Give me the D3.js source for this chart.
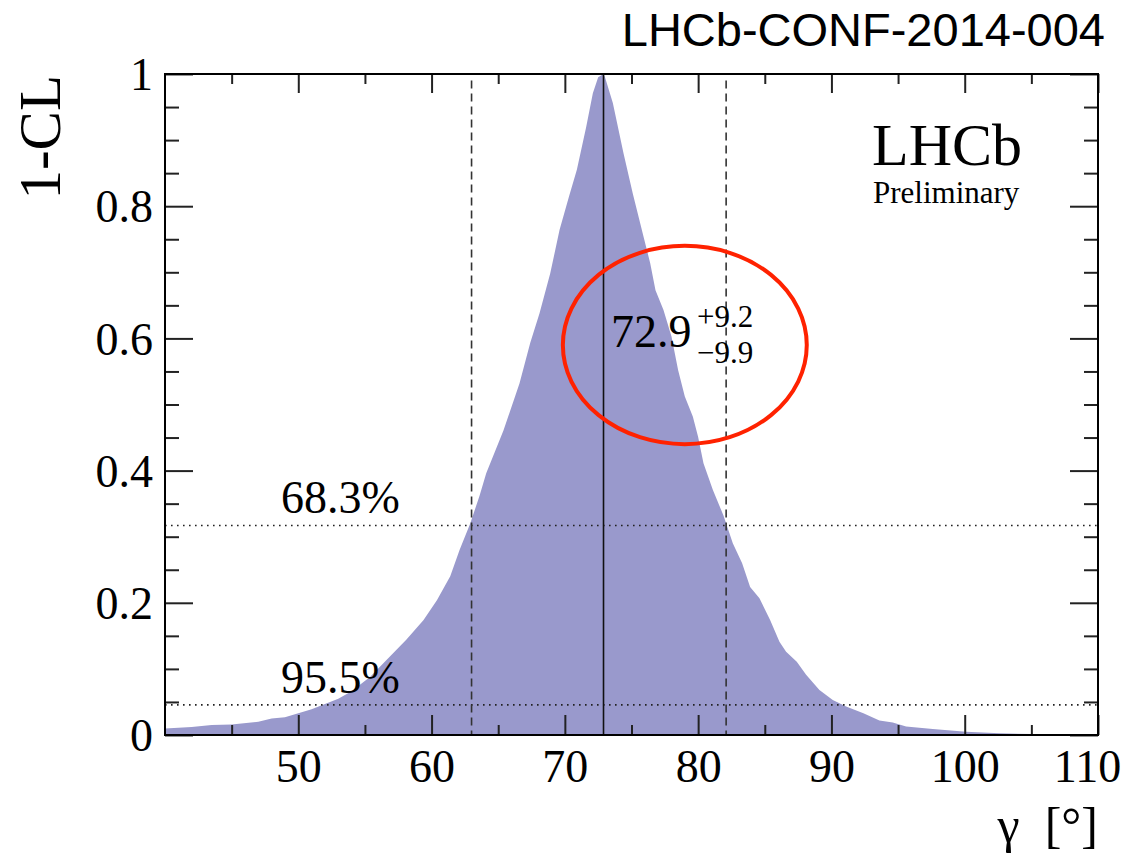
<!DOCTYPE html>
<html>
<head>
<meta charset="utf-8">
<script src="https://cdn.jsdelivr.net/npm/d3@7"></script>
<style>
  html, body { margin: 0; padding: 0; background: #fff; }
  svg { display: block; }
</style>
</head>
<body>
<svg id="chart" width="1135" height="858"></svg>
<script>
// gamma scan: 1-CL versus gamma [deg]
const gamma = [40.0, 42.0, 43.5, 45.0, 47.0, 48.0, 49.0, 50.0, 51.0, 52.0, 53.0, 54.0,
  55.4, 56.6, 58.1, 59.4, 60.4, 61.4, 62.1, 62.9, 63.6, 64.1, 65.4, 66.6, 67.4, 68.1,
  68.9, 69.6, 70.3, 70.9, 71.6, 72.1, 72.5, 72.9, 73.0, 73.6, 74.4, 75.1, 75.9, 76.4,
  76.8, 77.4, 78.0, 78.5, 79.0, 79.6, 80.0, 80.4, 81.1, 81.9, 82.6, 83.3, 83.9, 84.6,
  85.4, 86.1, 86.6, 87.4, 88.1, 89.1, 90.1, 91.1, 92.4, 93.6, 94.6, 95.6, 97.6, 100.1,
  102.6, 105.1, 107.6, 110.0];
const oneMinusCL = [0.010, 0.012, 0.015, 0.016, 0.020, 0.025, 0.027, 0.033, 0.039, 0.047, 0.055, 0.066,
  0.088, 0.113, 0.144, 0.174, 0.204, 0.240, 0.280, 0.320, 0.362, 0.396, 0.461, 0.532, 0.593, 0.638,
  0.698, 0.764, 0.814, 0.855, 0.920, 0.971, 0.995, 1.000, 0.996, 0.956, 0.880, 0.819, 0.754, 0.714,
  0.673, 0.643, 0.603, 0.552, 0.512, 0.482, 0.451, 0.411, 0.371, 0.332, 0.290, 0.260, 0.224, 0.207,
  0.174, 0.141, 0.126, 0.111, 0.091, 0.068, 0.053, 0.043, 0.033, 0.022, 0.019, 0.013, 0.009, 0.005,
  0.0025, 0.0015, 0.001, 0.0005];

// best fit and 1-sigma interval
const central = 72.9;
const errUp = 9.2;
const errDown = 9.9;

// confidence-level reference lines
const clLevels = [0.317, 0.0455];
const clLabels = ["68.3%", "95.5%"];

// axes
const xMajor = [50, 60, 70, 80, 90, 100, 110];
const xMinor = [45, 55, 65, 75, 85, 95, 105];
const xTickLabels = ["50", "60", "70", "80", "90", "100", "110"];
const yMajor = [0, 0.2, 0.4, 0.6, 0.8, 1];
const yMinor = [0.05, 0.1, 0.15, 0.25, 0.3, 0.35, 0.45, 0.5, 0.55, 0.65, 0.7, 0.75, 0.85, 0.9, 0.95];
const yTickLabels = ["0", "0.2", "0.4", "0.6", "0.8", "1"];

const serif = "'Liberation Serif', 'Times New Roman', serif";
const sans = "'Liberation Sans', Arial, sans-serif";

const svg = d3.select("#chart");
const L = 165, R = 1098, T = 74, B = 735;
const x = d3.scaleLinear().domain([40, 110]).range([L, R]);
const y = d3.scaleLinear().domain([0, 1]).range([B, T]);

const points = gamma.map((g, i) => ({ g, v: oneMinusCL[i] }));

// filled profile
const area = d3.area()
  .x(d => x(d.g))
  .y0(y(0))
  .y1(d => y(d.v))
  .curve(d3.curveLinear);
svg.append("path")
  .datum(points)
  .attr("d", area)
  .attr("fill", "#9999cc");

// dotted CL lines
svg.selectAll("line.cl")
  .data(clLevels)
  .join("line")
  .attr("class", "cl")
  .attr("x1", x(40)).attr("x2", x(110))
  .attr("y1", d => y(d)).attr("y2", d => y(d))
  .attr("stroke", "#222")
  .attr("stroke-width", 1.6)
  .attr("stroke-dasharray", "1.6,4.4");

// dashed interval boundaries
svg.selectAll("line.bound")
  .data([central - errDown, central + errUp])
  .join("line")
  .attr("class", "bound")
  .attr("x1", d => x(d)).attr("x2", d => x(d))
  .attr("y1", y(0.99)).attr("y2", y(0))
  .attr("stroke", "#333")
  .attr("stroke-width", 1.6)
  .attr("stroke-dasharray", "8,5");

// central value
svg.append("line")
  .attr("x1", x(central)).attr("x2", x(central))
  .attr("y1", y(1)).attr("y2", y(0))
  .attr("stroke", "#111")
  .attr("stroke-width", 1.6);

// CL labels
svg.selectAll("text.cl")
  .data(clLabels)
  .join("text")
  .attr("class", "cl")
  .attr("x", 281)
  .attr("y", (d, i) => y(clLevels[i]) - 12)
  .attr("font-family", serif)
  .attr("font-size", 46)
  .attr("fill", "#000")
  .text(d => d);

// axis ticks (inside, on all four sides)
function styleAxis(g) {
  g.select(".domain").remove();
  g.selectAll(".tick line").attr("stroke", "#222").attr("stroke-width", 2);
}

const bottom = svg.append("g")
  .attr("transform", `translate(0,${B})`)
  .call(d3.axisBottom(x).tickValues(xMajor).tickSize(-20).tickPadding(14)
    .tickFormat((d, i) => xTickLabels[i]));
styleAxis(bottom);
bottom.selectAll("text").attr("font-family", serif).attr("font-size", 46).attr("fill", "#000");
// keep the last label clear of the page edge
bottom.selectAll(".tick").filter(d => d === 110).select("text").attr("dx", -11);

svg.append("g")
  .attr("transform", `translate(0,${B})`)
  .call(d3.axisBottom(x).tickValues(xMinor).tickSize(-10).tickFormat(""))
  .call(styleAxis);

svg.append("g")
  .attr("transform", `translate(0,${T})`)
  .call(d3.axisTop(x).tickValues(xMajor).tickSize(-19).tickFormat(""))
  .call(styleAxis);
svg.append("g")
  .attr("transform", `translate(0,${T})`)
  .call(d3.axisTop(x).tickValues(xMinor).tickSize(-10).tickFormat(""))
  .call(styleAxis);

const left = svg.append("g")
  .attr("transform", `translate(${L},0)`)
  .call(d3.axisLeft(y).tickValues(yMajor).tickSize(-28).tickPadding(12)
    .tickFormat((d, i) => yTickLabels[i]));
styleAxis(left);
left.selectAll("text").attr("font-family", serif).attr("font-size", 46).attr("fill", "#000")
  .attr("dy", "0.34em");

svg.append("g")
  .attr("transform", `translate(${L},0)`)
  .call(d3.axisLeft(y).tickValues(yMinor).tickSize(-14).tickFormat(""))
  .call(styleAxis);

svg.append("g")
  .attr("transform", `translate(${R},0)`)
  .call(d3.axisRight(y).tickValues(yMajor).tickSize(-28).tickFormat(""))
  .call(styleAxis);
svg.append("g")
  .attr("transform", `translate(${R},0)`)
  .call(d3.axisRight(y).tickValues(yMinor).tickSize(-14).tickFormat(""))
  .call(styleAxis);

// frame
svg.append("rect")
  .attr("x", L).attr("y", T)
  .attr("width", R - L).attr("height", B - T)
  .attr("fill", "none")
  .attr("stroke", "#000")
  .attr("stroke-width", 2);

// axis titles
svg.append("text")
  .attr("transform", "translate(60,75) rotate(-90)")
  .attr("text-anchor", "end")
  .attr("font-family", serif)
  .attr("font-size", 59)
  .attr("fill", "#000")
  .text("1-CL");

svg.append("text")
  .attr("x", R)
  .attr("y", 842)
  .attr("text-anchor", "end")
  .attr("font-family", serif)
  .attr("font-size", 50)
  .attr("fill", "#000")
  .attr("xml:space", "preserve")
  .text("γ  [°]");

// experiment labels
svg.append("text")
  .attr("x", 872).attr("y", 165)
  .attr("font-family", serif)
  .attr("font-size", 60)
  .attr("fill", "#000")
  .text("LHCb");
svg.append("text")
  .attr("x", 873).attr("y", 203)
  .attr("font-family", serif)
  .attr("font-size", 31)
  .attr("fill", "#000")
  .text("Preliminary");

svg.append("text")
  .attr("x", 1105).attr("y", 46)
  .attr("text-anchor", "end")
  .attr("font-family", sans)
  .attr("font-size", 47)
  .attr("fill", "#000")
  .text("LHCb-CONF-2014-004");

// result with asymmetric errors
const res = svg.append("g").attr("font-family", serif).attr("fill", "#000");
res.append("text").attr("x", 611).attr("y", 347).attr("font-size", 46).text(central.toFixed(1));
res.append("text").attr("x", 697).attr("y", 327).attr("font-size", 31).text("+" + errUp.toFixed(1));
res.append("text").attr("x", 697).attr("y", 363).attr("font-size", 31).text("\u2212" + errDown.toFixed(1));

// highlight ellipse around the result
svg.append("ellipse")
  .attr("cx", x(79.0)).attr("cy", y(0.59))
  .attr("rx", x(79.0) - x(69.85)).attr("ry", y(0.44) - y(0.59))
  .attr("fill", "none")
  .attr("stroke", "#ff2200")
  .attr("stroke-width", 4);
</script>
</body>
</html>
